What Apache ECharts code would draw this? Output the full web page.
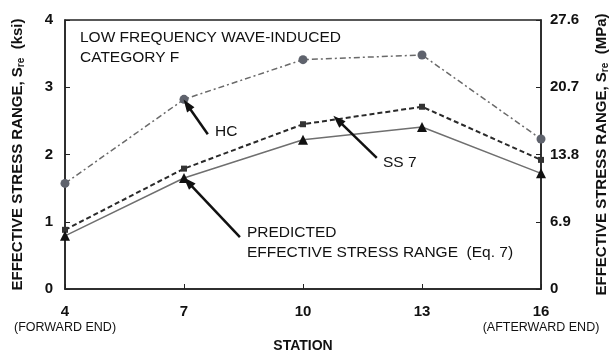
<!DOCTYPE html>
<html><head><meta charset="utf-8">
<script src="https://cdn.jsdelivr.net/npm/echarts@6/dist/echarts.min.js"></script>
<style>html,body{margin:0;padding:0;background:#fff}#c{width:613px;height:355px}</style>
</head><body><div id="c"></div>
<script>
var stations = [4, 7, 10, 13, 16];
var hcValues = [1.57, 2.82, 3.41, 3.48, 2.23];
var ss7Values = [0.88, 1.79, 2.45, 2.71, 1.92];
var predictedValues = [0.79, 1.65, 2.22, 2.41, 1.72];
var rightTickLabels = ['0', '6.9', '13.8', '20.7', '27.6'];
var stationNotes = {4: '(FORWARD END)', 16: '(AFTERWARD END)'};
// annotation arrows: [tailStation, tailValue, tipStation, tipValue]
var arrowHC = [7.60, 2.30, 7.08, 2.74];
var arrowSS7 = [11.86, 1.95, 10.88, 2.51];
var arrowPred = [8.41, 0.77, 7.10, 1.59];

function pairs(vals){ return stations.map(function(s,i){ return [s, vals[i]]; }); }
function arrow(a){ return [{coord:[a[0],a[1]]},{coord:[a[2],a[3]]}]; }

var font = 'Liberation Sans, Arial, sans-serif';
var nameRich = {
  t: {fontFamily: font, fontSize: 15, fontWeight: 'bold', color: '#111'},
  sub: {fontFamily: font, fontSize: 10, fontWeight: 'bold', color: '#111', verticalAlign: 'bottom', padding: [7,0,0,0]}
};
var markLineBase = {silent: true, symbol: ['none', 'path://M0,0 L5,14 L-5,14 Z'], symbolSize: [9, 14], symbolKeepAspect: true, label: {show: false},
  lineStyle: {color: '#111', width: 2.5, type: 'solid'}, emphasis: {disabled: true}};
var chart = echarts.init(document.getElementById('c'), null, {renderer:'canvas'});
chart.setOption({
  animation: false,
  backgroundColor: '#fff',
  grid: {left: 65, right: 72, top: 20, bottom: 66, show: true, borderColor: '#222', borderWidth: 1.5,
    outerBoundsMode: 'none', containLabel: false},
  xAxis: {
    type: 'value', min: 4, max: 16, interval: 3,
    name: 'STATION', nameLocation: 'middle', nameGap: 49,
    nameTextStyle: {fontFamily: font, fontSize: 14, fontWeight: 'bold', color: '#111'},
    axisLine: {lineStyle: {color: '#222', width: 1.5}},
    axisTick: {inside: true, length: 5, lineStyle: {color: '#222'}},
    splitLine: {show: false},
    axisLabel: {
      margin: 15, color: '#111',
      formatter: function(v){ return stationNotes[v] ? '{n|' + v + '}\n{s|' + stationNotes[v] + '}' : '{n|' + v + '}'; },
      rich: {
        n: {fontFamily: font, fontSize: 15, fontWeight: 'bold', color: '#111', lineHeight: 16},
        s: {fontFamily: font, fontSize: 12.5, color: '#111', lineHeight: 16}
      }
    }
  },
  yAxis: [{
    type: 'value', min: 0, max: 4, interval: 1,
    name: '{t|EFFECTIVE STRESS RANGE, S}{sub|re}{t|  (ksi)}', nameLocation: 'middle', nameGap: 39, nameRotate: 90,
    nameTextStyle: {rich: nameRich},
    axisLine: {show: true, lineStyle: {color: '#222', width: 1.5}},
    axisTick: {show: true, inside: true, length: 5, lineStyle: {color: '#222'}},
    splitLine: {show: false},
    axisLabel: {margin: 12, fontFamily: font, fontSize: 15, fontWeight: 'bold', color: '#111',
      formatter: function(v){ return String(v); }}
  }, {
    type: 'value', min: 0, max: 27.6, interval: 6.9, position: 'right',
    name: '{t|EFFECTIVE STRESS RANGE, S}{sub|re}{t|  (MPa)}', nameLocation: 'middle', nameGap: 52, nameRotate: 90,
    nameTextStyle: {rich: nameRich},
    axisLine: {show: true, lineStyle: {color: '#222', width: 1.5}},
    axisTick: {show: true, inside: true, length: 5, lineStyle: {color: '#222'}},
    splitLine: {show: false},
    axisLabel: {margin: 9, fontFamily: font, fontSize: 15, fontWeight: 'bold', color: '#111',
      formatter: function(v){ return rightTickLabels[Math.round(v / 6.9)]; }}
  }],
  series: [{
    name: 'HC', type: 'line', data: pairs(hcValues),
    symbol: 'circle', symbolSize: 9,
    itemStyle: {color: '#5f636d'},
    lineStyle: {color: '#6a6a6a', width: 1.5, type: [6, 3, 2, 3]},
    markLine: Object.assign({data: [arrow(arrowHC)]}, markLineBase)
  }, {
    name: 'SS 7', type: 'line', data: pairs(ss7Values),
    symbol: 'rect', symbolSize: 6,
    itemStyle: {color: '#333'},
    lineStyle: {color: '#2a2a2a', width: 2, type: [5, 3]},
    markLine: Object.assign({data: [arrow(arrowSS7)]}, markLineBase)
  }, {
    name: 'Predicted', type: 'line', data: pairs(predictedValues),
    symbol: 'triangle', symbolSize: 10,
    itemStyle: {color: '#111'},
    lineStyle: {color: '#6f6f6f', width: 1.5, type: 'solid'},
    markLine: Object.assign({data: [arrow(arrowPred)]}, markLineBase)
  }],
  graphic: [
    {type: 'text', left: 80, top: 28, style: {text: 'LOW FREQUENCY WAVE-INDUCED\nCATEGORY F', lineHeight: 20, font: '15.5px ' + font, fill: '#111'}},
    {type: 'text', left: 215, top: 124, style: {text: 'HC', font: '15.5px ' + font, fill: '#111'}},
    {type: 'text', left: 383, top: 155, style: {text: 'SS 7', font: '15.5px ' + font, fill: '#111'}},
    {type: 'text', left: 247, top: 223, style: {text: 'PREDICTED\nEFFECTIVE STRESS RANGE  (Eq. 7)', lineHeight: 19.5, font: '15.5px ' + font, fill: '#111'}}
  ]
});
</script></body></html>
